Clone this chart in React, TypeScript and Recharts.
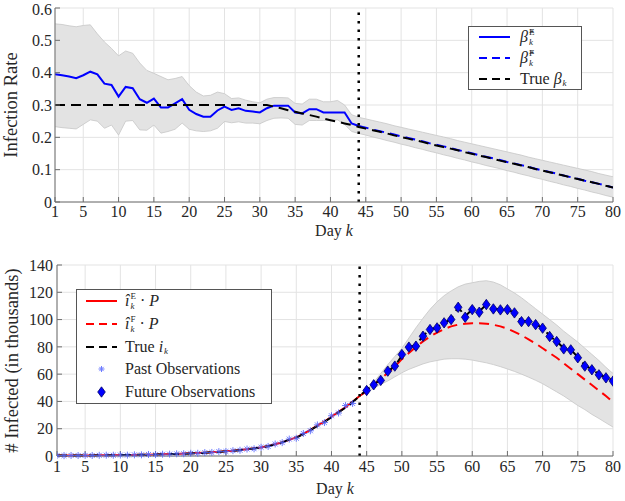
import React from 'react';
import { ComposedChart, Line, Area, Scatter, XAxis, YAxis, CartesianGrid, ReferenceLine, Legend, Label } from 'recharts';

const FONT = "'Liberation Serif', 'DejaVu Serif', serif";
const INK = '#262626';
const FRAME = '#6e6e6e';
const GRID = '#e3e3e3';
const BAND_FILL = '#e3e3e3';
const BAND_EDGE = '#c6c6c6';
const BLUE = '#0000ff';
const RED = '#ff0000';

const SPLIT_DAY = 44;
const DAYS = Array.from({ length: 80 }, (_, i) => i + 1);
const X_TICKS = [1, 5, 10, 15, 20, 25, 30, 35, 40, 45, 50, 55, 60, 65, 70, 75, 80];
const BETA_TICKS = [0, 0.1, 0.2, 0.3, 0.4, 0.5, 0.6];
const INF_TICKS = [0, 20, 40, 60, 80, 100, 120, 140];

// infection rate, days 1..44 (estimate) and 44..80 (forecast)
const BETA_EST = [
  0.395, 0.392, 0.388, 0.383, 0.392, 0.403, 0.395, 0.366, 0.362, 0.326,
  0.356, 0.352, 0.318, 0.307, 0.32, 0.292, 0.292, 0.305, 0.318, 0.285,
  0.272, 0.264, 0.264, 0.283, 0.295, 0.285, 0.29, 0.282, 0.28, 0.277,
  0.29, 0.298, 0.298, 0.298, 0.277, 0.274, 0.287, 0.287, 0.277, 0.277,
  0.277, 0.277, 0.243, 0.235,
];
const BETA_FORECAST = [
  0.235, 0.23, 0.224, 0.219, 0.214, 0.209, 0.203, 0.198, 0.193, 0.188,
  0.182, 0.177, 0.172, 0.167, 0.161, 0.156, 0.151, 0.145, 0.14, 0.135,
  0.13, 0.124, 0.119, 0.114, 0.109, 0.103, 0.098, 0.093, 0.088, 0.082,
  0.077, 0.072, 0.066, 0.061, 0.056, 0.051, 0.045,
];
const BETA_TRUE = [
  0.3, 0.3, 0.3, 0.3, 0.3, 0.3, 0.3, 0.3, 0.3, 0.3,
  0.3, 0.3, 0.3, 0.3, 0.3, 0.3, 0.3, 0.3, 0.3, 0.3,
  0.3, 0.3, 0.3, 0.3, 0.3, 0.3, 0.3, 0.3, 0.3, 0.3,
  0.3, 0.295, 0.29, 0.284, 0.279, 0.274, 0.269, 0.264, 0.258, 0.253,
  0.248, 0.243, 0.238, 0.232, 0.227, 0.222, 0.217, 0.212, 0.206, 0.201,
  0.196, 0.191, 0.186, 0.18, 0.175, 0.17, 0.165, 0.16, 0.154, 0.149,
  0.144, 0.139, 0.134, 0.128, 0.123, 0.118, 0.113, 0.108, 0.102, 0.097,
  0.092, 0.087, 0.082, 0.076, 0.071, 0.066, 0.061, 0.056, 0.05, 0.045,
];
const BETA_UPPER = [
  0.551, 0.549, 0.545, 0.542, 0.546, 0.548, 0.52, 0.495, 0.475, 0.452,
  0.467, 0.46, 0.43, 0.407, 0.398, 0.388, 0.378, 0.382, 0.388, 0.36,
  0.34, 0.328, 0.33, 0.34, 0.335, 0.32, 0.322, 0.315, 0.31, 0.307,
  0.318, 0.323, 0.323, 0.322, 0.305, 0.303, 0.318, 0.318, 0.31, 0.31,
  0.314, 0.3, 0.27, 0.262, 0.257, 0.252, 0.247, 0.242, 0.236, 0.231,
  0.226, 0.221, 0.216, 0.211, 0.206, 0.201, 0.196, 0.19, 0.185, 0.18,
  0.175, 0.17, 0.165, 0.16, 0.155, 0.15, 0.145, 0.139, 0.134, 0.129,
  0.124, 0.119, 0.114, 0.109, 0.104, 0.099, 0.094, 0.088, 0.083, 0.078,
];
const BETA_LOWER = [
  0.233, 0.23, 0.228, 0.226, 0.24, 0.254, 0.25, 0.228, 0.238, 0.207,
  0.25, 0.252, 0.223, 0.222, 0.238, 0.213, 0.218, 0.225, 0.244, 0.225,
  0.22, 0.218, 0.22, 0.228, 0.249, 0.245, 0.248, 0.244, 0.244, 0.242,
  0.252, 0.259, 0.26, 0.259, 0.24, 0.238, 0.252, 0.252, 0.252, 0.254,
  0.254, 0.24, 0.218, 0.212, 0.207, 0.201, 0.196, 0.19, 0.185, 0.179,
  0.174, 0.168, 0.163, 0.157, 0.152, 0.146, 0.141, 0.135, 0.13, 0.124,
  0.119, 0.113, 0.108, 0.103, 0.097, 0.092, 0.086, 0.081, 0.075, 0.07,
  0.064, 0.059, 0.053, 0.048, 0.042, 0.037, 0.031, 0.026, 0.02, 0.015,
];

// infected, thousands
const INF_TRUE = [
  0.3, 0.3, 0.35, 0.4, 0.4, 0.45, 0.5, 0.55, 0.6, 0.65,
  0.7, 0.8, 0.9, 1.0, 1.1, 1.2, 1.4, 1.5, 1.7, 1.9,
  2.1, 2.4, 2.7, 3.0, 3.4, 3.8, 4.3, 4.9, 5.5, 6.2,
  7.2, 8.5, 10.0, 12.0, 13.5, 16.0, 19.0, 22.0, 25.0, 28.5,
  32.0, 35.5, 39.5, 44.0, 48.5, 52.5, 56.0, 62.0, 66.0, 73.5,
  79.5, 81.5, 88.0, 92.5, 94.5, 97.5, 100.5, 109.0, 102.5, 107.5,
  106.0, 111.0, 108.0, 107.5, 107.5, 105.0, 99.0, 98.5, 96.5, 94.0,
  88.0, 84.0, 79.0, 78.0, 72.5, 66.5, 63.5, 60.0, 57.5, 55.5,
];
const INF_EST = [
  0.3, 0.3, 0.35, 0.4, 0.42, 0.45, 0.5, 0.55, 0.6, 0.66,
  0.72, 0.8, 0.9, 1.0, 1.1, 1.25, 1.4, 1.55, 1.75, 1.95,
  2.15, 2.45, 2.75, 3.05, 3.45, 3.9, 4.4, 4.95, 5.6, 6.3,
  7.3, 8.6, 10.1, 11.8, 13.6, 16.2, 19.2, 22.3, 25.3, 28.8,
  32.3, 35.8, 39.8, 44.0,
];
const INF_FORECAST = [
  44.0, 47.5, 52.0, 56.5, 61.0, 65.5, 71.0, 75.5, 80.0, 84.0,
  87.5, 90.5, 93.0, 95.0, 96.3, 97.0, 97.3, 97.3, 97.0, 96.2,
  95.0, 93.3, 91.0, 88.5, 85.5, 82.5, 79.0, 75.5, 72.0, 68.0,
  64.0, 60.0, 56.0, 52.0, 48.0, 44.0, 39.5,
];
const INF_UPPER = [
  44.0, 48.5, 54.0, 60.5, 67.0, 73.0, 79.0, 86.5, 94.0, 101.0,
  107.5, 113.0, 117.5, 121.0, 124.0, 126.0, 127.0, 128.0, 128.5, 127.5,
  125.5, 122.5, 119.5, 116.0, 112.0, 108.0, 104.0, 100.0, 96.0, 91.5,
  87.5, 83.5, 79.0, 74.5, 70.0, 65.0, 60.5,
];
const INF_LOWER = [
  44.0, 46.5, 49.5, 52.5, 55.0, 58.0, 61.0, 63.5, 65.5, 67.5,
  69.0, 70.0, 71.0, 71.3, 71.3, 71.0, 70.3, 69.3, 68.3, 67.0,
  65.5, 63.8, 62.0, 60.0, 57.8, 55.5, 53.0, 50.0, 47.0, 44.0,
  40.5, 37.0, 34.0, 30.5, 27.5, 24.3, 21.2,
];
// observations: days 1..43 and 45..80
const PAST_OBS = [
  0.3, 0.25, 0.4, 0.35, 0.45, 0.4, 0.5, 0.6, 0.55, 0.7,
  0.65, 0.85, 0.85, 1.1, 1.0, 1.3, 1.35, 1.6, 1.65, 2.0,
  2.0, 2.5, 2.6, 3.2, 3.3, 3.9, 4.2, 5.1, 5.3, 6.4,
  7.0, 8.8, 9.8, 12.4, 13.0, 16.5, 18.5, 22.8, 24.5, 29.5,
  31.5, 37.0, 38.5,
];
const FUTURE_OBS = [
  48.0, 52.2, 55.4, 62.2, 65.9, 74.4, 79.8, 80.5, 87.8, 92.7,
  93.9, 97.6, 100.0, 109.0, 101.7, 107.3, 105.4, 111.0, 107.8, 107.1,
  107.3, 104.9, 98.5, 98.5, 96.3, 93.7, 87.6, 83.9, 78.5, 77.8,
  72.0, 65.9, 63.2, 59.5, 57.3, 54.9,
];

const betaRows = DAYS.map((k, i) => ({
  k,
  est: k <= SPLIT_DAY ? BETA_EST[i] : null,
  fc: k >= SPLIT_DAY ? BETA_FORECAST[k - SPLIT_DAY] : null,
  truth: BETA_TRUE[i],
  band: [BETA_LOWER[i], BETA_UPPER[i]],
}));

const infRows = DAYS.map((k, i) => ({
  k,
  est: k <= SPLIT_DAY ? INF_EST[i] : null,
  fc: k >= SPLIT_DAY ? INF_FORECAST[k - SPLIT_DAY] : null,
  truth: INF_TRUE[i],
  band: k >= SPLIT_DAY ? [INF_LOWER[k - SPLIT_DAY], INF_UPPER[k - SPLIT_DAY]] : null,
}));

const pastPts = PAST_OBS.map((v, i) => ({ k: i + 1, obs: v }));
const futurePts = FUTURE_OBS.map((v, i) => ({ k: i + 45, obs: v }));

const tickStyle = { fontSize: 16, fill: INK, fontFamily: FONT };

function Asterisk({ cx, cy, r = 3.5 }: any) {
  const d = r * 0.7;
  return (
    <g stroke="#5566ff" strokeWidth={1} opacity={0.85}>
      <line x1={cx - r} y1={cy} x2={cx + r} y2={cy} />
      <line x1={cx} y1={cy - r} x2={cx} y2={cy + r} />
      <line x1={cx - d} y1={cy - d} x2={cx + d} y2={cy + d} />
      <line x1={cx - d} y1={cy + d} x2={cx + d} y2={cy - d} />
    </g>
  );
}

function Diamond({ cx, cy }: any) {
  return (
    <polygon
      points={`${cx},${cy - 5.2} ${cx + 3.8},${cy} ${cx},${cy + 5.2} ${cx - 3.8},${cy}`}
      fill={BLUE}
      stroke="#000066"
      strokeWidth={0.8}
    />
  );
}

// base symbol with superscript stacked over subscript
function Scripted({ base, sup, sub }: { base: string; sup?: string; sub: string }) {
  return (
    <span style={{ display: 'inline-flex', alignItems: 'center' }}>
      <span style={{ fontStyle: 'italic' }}>{base}</span>
      <span style={{ display: 'inline-flex', flexDirection: 'column', fontSize: 9, lineHeight: '10px', marginLeft: 1 }}>
        {sup ? <span>{sup}</span> : null}
        <span style={{ fontStyle: 'italic', marginTop: sup ? 0 : 8 }}>{sub}</span>
      </span>
    </span>
  );
}

function Sample({ kind, color, dash }: { kind: string; color: string; dash?: string }) {
  return (
    <svg width={31} height={12} style={{ display: 'block', flex: 'none' }}>
      {kind === 'line' && <line x1={0} y1={6} x2={31} y2={6} stroke={color} strokeWidth={2} strokeDasharray={dash} />}
      {kind === 'star' && <Asterisk cx={15.5} cy={6} r={3} />}
      {kind === 'diamond' && <Diamond cx={15.5} cy={6} />}
    </svg>
  );
}

function LegendBox({ rows, rowH, padX, gap }: { rows: any[]; rowH: number; padX: number; gap: number }) {
  return (
    <div style={{ border: '1px solid #555', background: '#fff', fontFamily: FONT, fontSize: 16, lineHeight: '18px', color: INK, boxSizing: 'border-box' }}>
      {rows.map((r, i) => (
        <div key={i} style={{ display: 'flex', alignItems: 'center', height: rowH, paddingLeft: padX, whiteSpace: 'nowrap' }}>
          <Sample kind={r.kind} color={r.color} dash={r.dash} />
          <span style={{ marginLeft: gap, display: 'inline-flex', alignItems: 'center' }}>{r.label}</span>
        </div>
      ))}
    </div>
  );
}

const BETA_LEGEND = [
  { kind: 'line', color: BLUE, label: <Scripted base={'\u03b2\u0302'} sup="E" sub="k" /> },
  { kind: 'line', color: BLUE, dash: '8 5', label: <Scripted base={'\u03b2\u0302'} sup="F" sub="k" /> },
  { kind: 'line', color: '#000', dash: '8 5', label: <span style={{ display: 'inline-flex', alignItems: 'center' }}>True&nbsp;<Scripted base={'\u03b2'} sub="k" /></span> },
];

const INF_LEGEND = [
  { kind: 'line', color: RED, label: <span style={{ display: 'inline-flex', alignItems: 'center' }}><Scripted base={'\u00ee'} sup="E" sub="k" />&nbsp;·&nbsp;<i>P</i></span> },
  { kind: 'line', color: RED, dash: '8 5', label: <span style={{ display: 'inline-flex', alignItems: 'center' }}><Scripted base={'\u00ee'} sup="F" sub="k" />&nbsp;·&nbsp;<i>P</i></span> },
  { kind: 'line', color: '#000', dash: '8 5', label: <span style={{ display: 'inline-flex', alignItems: 'center' }}>True&nbsp;<Scripted base="i" sub="k" /></span> },
  { kind: 'star', color: BLUE, label: 'Past Observations' },
  { kind: 'diamond', color: BLUE, label: 'Future Observations' },
];

const yLabel = (text: string, x: number) => (props: any) => {
  const vb = props.viewBox;
  const cy = vb.y + vb.height / 2;
  return (
    <text x={x} y={cy} transform={`rotate(-90, ${x}, ${cy})`} textAnchor="middle" fontSize={18.5} fill={INK} fontFamily={FONT}>
      {text}
    </text>
  );
};

const xLabel = (dy: number) => (props: any) => {
  const vb = props.viewBox;
  return (
    <text x={vb.x + vb.width / 2} y={vb.y + dy} textAnchor="middle" fontSize={16} fill={INK} fontFamily={FONT}>
      Day <tspan fontStyle="italic">k</tspan>
    </text>
  );
};

export default function App() {
  return (
    <div style={{ position: 'absolute', left: 0, top: 0, width: 625, height: 501, background: '#fff', fontFamily: FONT }}>
      <ComposedChart width={625} height={240} data={betaRows} margin={{ top: 8, right: 12, bottom: 0, left: 0 }}>
        <CartesianGrid stroke={GRID} strokeWidth={1} />
        <XAxis dataKey="k" type="number" domain={[1, 80]} ticks={X_TICKS} interval={0} height={38}
          stroke={FRAME} tick={tickStyle} tickSize={-5} tickMargin={9} allowDataOverflow>
          <Label content={xLabel(34)} />
        </XAxis>
        <XAxis xAxisId="top" orientation="top" type="number" domain={[1, 80]} ticks={X_TICKS} height={0}
          stroke={FRAME} tick={false} tickSize={-5} />
        <YAxis type="number" domain={[0, 0.6]} ticks={BETA_TICKS} width={55} stroke={FRAME}
          tick={tickStyle} tickSize={-5} tickMargin={8} tickFormatter={(v: number) => (v === 0 ? '0' : v.toFixed(1))}>
          <Label content={yLabel('Infection Rate', 17)} />
        </YAxis>
        <YAxis yAxisId="right" orientation="right" type="number" domain={[0, 0.6]} ticks={BETA_TICKS} width={0}
          stroke={FRAME} tick={false} tickSize={-5} />
        <Area dataKey="band" stroke={BAND_EDGE} strokeWidth={0.8} fill={BAND_FILL} fillOpacity={1} isAnimationActive={false} />
        <Line dataKey="est" stroke={BLUE} strokeWidth={2} dot={false} isAnimationActive={false} />
        <Line dataKey="fc" stroke={BLUE} strokeWidth={2} strokeDasharray="10 6" dot={false} isAnimationActive={false} />
        <Line dataKey="truth" stroke="#000" strokeWidth={2} strokeDasharray="10 6" dot={false} isAnimationActive={false} />
        <ReferenceLine x={SPLIT_DAY} stroke="#000" strokeWidth={2.5} strokeDasharray="2.5 6" />
        <Legend layout="vertical" align="center" verticalAlign="middle"
          wrapperStyle={{ left: 468, top: 26, width: 114 }}
          content={() => <LegendBox rows={BETA_LEGEND} rowH={20.7} padX={10} gap={10} />} />
      </ComposedChart>

      <div style={{ position: 'absolute', left: 0, top: 240 }}>
        <ComposedChart width={625} height={261} data={infRows} margin={{ top: 25, right: 12, bottom: 0, left: 0 }}>
          <CartesianGrid stroke={GRID} strokeWidth={1} />
          <XAxis dataKey="k" type="number" domain={[1, 80]} ticks={X_TICKS} interval={0} height={45}
            stroke={FRAME} tick={tickStyle} tickSize={-5} tickMargin={10} allowDataOverflow>
            <Label content={xLabel(38)} />
          </XAxis>
          <XAxis xAxisId="top" orientation="top" type="number" domain={[1, 80]} ticks={X_TICKS} height={0}
            stroke={FRAME} tick={false} tickSize={-5} />
          <YAxis type="number" domain={[0, 140]} ticks={INF_TICKS} width={57} stroke={FRAME}
            tick={tickStyle} tickSize={-5} tickMargin={9}>
            <Label content={yLabel('# Infected (in thousands)', 18)} />
          </YAxis>
          <YAxis yAxisId="right" orientation="right" type="number" domain={[0, 140]} ticks={INF_TICKS} width={0}
            stroke={FRAME} tick={false} tickSize={-5} />
          <Area dataKey="band" stroke={BAND_EDGE} strokeWidth={0.8} fill={BAND_FILL} fillOpacity={1} isAnimationActive={false} />
          <Line dataKey="est" stroke={RED} strokeWidth={2} dot={false} isAnimationActive={false} />
          <Line dataKey="fc" stroke={RED} strokeWidth={2} strokeDasharray="10 6" dot={false} isAnimationActive={false} />
          <Line dataKey="truth" stroke="#000" strokeWidth={2} strokeDasharray="10 6" dot={false} isAnimationActive={false} />
          <Scatter data={pastPts} dataKey="obs" shape={(p: any) => <Asterisk cx={p.cx} cy={p.cy} />} isAnimationActive={false} />
          <Scatter data={futurePts} dataKey="obs" shape={(p: any) => <Diamond cx={p.cx} cy={p.cy} />} isAnimationActive={false} />
          <ReferenceLine x={SPLIT_DAY} stroke="#000" strokeWidth={2.5} strokeDasharray="2.5 6" />
          <Legend layout="vertical" align="center" verticalAlign="middle"
            wrapperStyle={{ left: 76, top: 49, width: 196 }}
            content={() => <LegendBox rows={INF_LEGEND} rowH={22.7} padX={9} gap={8} />} />
        </ComposedChart>
      </div>
    </div>
  );
}
